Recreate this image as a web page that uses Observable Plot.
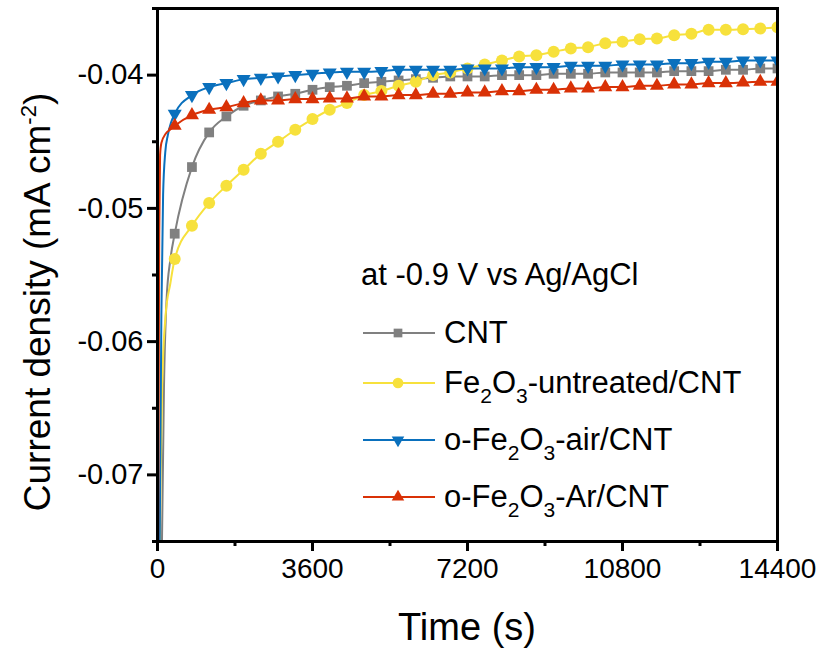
<!DOCTYPE html>
<html><head><meta charset="utf-8">
<script src="https://cdn.jsdelivr.net/npm/d3@7"></script>
<script src="https://cdn.jsdelivr.net/npm/@observablehq/plot@0.6"></script>
<style>body{margin:0;background:#fff;} svg{font-family:"Liberation Sans",Arial,sans-serif;}</style>
</head><body><div id="chart"></div>
<script>
// ---------- data ----------
const seriesNames = ["CNT", "Fe2O3-untreated/CNT", "o-Fe2O3-air/CNT", "o-Fe2O3-Ar/CNT"];
const colors = ["#808080", "#f7e13c", "#0a70bd", "#d93106"];
const time = [400,800,1200,1600,2000,2400,2800,3200,3600,4000,4400,4800,5200,5600,6000,6400,6800,7200,
              7600,8000,8400,8800,9200,9600,10000,10400,10800,11200,11600,12000,12400,12800,13200,13600,14000,14400];
const cnt = [-0.0519,-0.0469,-0.0443,-0.0431,-0.0423,-0.0419,-0.0416,-0.0414,-0.0411,-0.0409,-0.0408,-0.0406,-0.0405,-0.0404,-0.0403,-0.0402,-0.0401,-0.0401,
             -0.0401,-0.0400,-0.0400,-0.0400,-0.0399,-0.0399,-0.0399,-0.0398,-0.0398,-0.0398,-0.0398,-0.0397,-0.0397,-0.0397,-0.0396,-0.0396,-0.0395,-0.0395];
const fe2o3 = [-0.0538,-0.0513,-0.0496,-0.0483,-0.0471,-0.0459,-0.0450,-0.0441,-0.0433,-0.0426,-0.0421,-0.0415,-0.0412,-0.0408,-0.0405,-0.0400,-0.0398,-0.0395,
               -0.0392,-0.0389,-0.0386,-0.0385,-0.03825,-0.0380,-0.0379,-0.0376,-0.0375,-0.0373,-0.03725,-0.0370,-0.0369,-0.0366,-0.0366,-0.03655,-0.0365,-0.0364];
const air = [-0.0429,-0.0415,-0.0409,-0.0406,-0.0403,-0.0402,-0.0401,-0.0400,-0.0399,-0.0398,-0.03975,-0.03975,-0.0397,-0.0396,-0.0396,-0.0396,-0.0396,-0.0395,
             -0.0395,-0.0395,-0.0394,-0.0394,-0.0394,-0.0393,-0.0393,-0.0393,-0.0392,-0.0392,-0.0392,-0.0391,-0.0391,-0.0390,-0.0390,-0.0389,-0.0389,-0.0389];
const ar = [-0.0438,-0.0430,-0.0426,-0.0424,-0.0421,-0.0419,-0.0419,-0.0418,-0.0418,-0.04175,-0.04175,-0.0416,-0.0416,-0.0415,-0.0415,-0.0414,-0.0414,-0.0413,
            -0.0413,-0.0412,-0.0412,-0.0411,-0.0411,-0.0410,-0.0410,-0.0409,-0.0409,-0.0408,-0.0408,-0.0407,-0.0407,-0.0406,-0.0406,-0.04055,-0.0405,-0.0405];
// initial transient (line only, before first marker)
const cntEarlyT = [100,150,210,300],        cntEarlyV = [-0.076,-0.0635,-0.0569,-0.0538];
const fe2o3EarlyT = [50,70,110,186,300],    fe2o3EarlyV = [-0.076,-0.0706,-0.0631,-0.0581,-0.0556];
const airEarlyT = [40,90,130,180,240,310],  airEarlyV = [-0.080,-0.058,-0.049,-0.0458,-0.0445,-0.0436];
const arEarlyT = [10,40,60,90,190,290],     arEarlyV = [-0.080,-0.052,-0.0460,-0.0451,-0.0444,-0.0441];

const xTicks = [0,3600,7200,10800,14400];
const xMinor = [1800,5400,9000,12600];
const yTicks = [-0.07,-0.06,-0.05,-0.04];
const yMinor = [-0.075,-0.065,-0.055,-0.045,-0.035];

// ---------- build tables ----------
const mainVals = [cnt, fe2o3, air, ar];
const earlyT = [cntEarlyT, fe2o3EarlyT, airEarlyT, arEarlyT];
const earlyV = [cntEarlyV, fe2o3EarlyV, airEarlyV, arEarlyV];
const lineData = seriesNames.map((s, i) => [
  ...earlyT[i].map((t, j) => ({t, v: earlyV[i][j], s})),
  ...time.map((t, j) => ({t, v: mainVals[i][j], s}))
]);
const dotData = seriesNames.map((s, i) => time.map((t, j) => ({t, v: mainVals[i][j], s})));

const sqrt3 = Math.sqrt(3);
const triangleDown = {
  draw(context, size) {
    const y = -Math.sqrt(size / (sqrt3 * 3));
    context.moveTo(0, -y * 2);
    context.lineTo(-sqrt3 * y, y);
    context.lineTo(sqrt3 * y, y);
    context.closePath();
  }
};
const symbols = [d3.symbolSquare, d3.symbolCircle, triangleDown, d3.symbolTriangle];
const radii = [5.5, 6.0, 5.2, 5.2];

const marks = [];
seriesNames.forEach((s, i) => {
  marks.push(Plot.line(lineData[i], {x: "t", y: "v", stroke: colors[i], strokeWidth: 2, curve: "monotone-x", clip: true}));
  marks.push(Plot.dot(dotData[i], {x: "t", y: "v", fill: colors[i], stroke: "none", symbol: symbols[i], r: radii[i], clip: true}));
});

const chart = Plot.plot({
  width: 821, height: 651,
  marginLeft: 157, marginRight: 44, marginTop: 8, marginBottom: 110,
  style: {fontFamily: "'Liberation Sans', Arial, sans-serif", fontSize: "28px", color: "black", background: "white"},
  x: {domain: [0, 14400], label: null},
  y: {domain: [-0.075, -0.035], label: null},
  marks: [
    ...marks,
    Plot.axisX({ticks: xTicks, tickSize: 10, tickPadding: 7, strokeWidth: 3, tickFormat: d => String(d), fontSize: 28, label: null}),
    Plot.axisX({ticks: xMinor, tickSize: 5, strokeWidth: 3, tickFormat: () => "", label: null}),
    Plot.axisY({ticks: yTicks, tickSize: 10, tickPadding: 4, strokeWidth: 3, tickFormat: d => d.toFixed(2), fontSize: 29, label: null}),
    Plot.axisY({ticks: yMinor, tickSize: 5, strokeWidth: 3, tickFormat: () => "", label: null}),
    Plot.frame({stroke: "black", strokeWidth: 3})
  ]
});
document.getElementById("chart").appendChild(chart);

// ---------- axis titles & legend ----------
const svg = d3.select(chart);
svg.append("text").attr("x", 467).attr("y", 640).attr("text-anchor", "middle")
  .attr("font-size", 38).attr("fill", "black").text("Time (s)");

const yl = svg.append("text").attr("transform", "translate(50,302) rotate(-90)")
  .attr("text-anchor", "middle").attr("font-size", 37).attr("fill", "black");
yl.append("tspan").text("Current density (mA cm");
yl.append("tspan").attr("font-size", 22).attr("dy", -14).text("-2");
yl.append("tspan").attr("dy", 14).text(")");

svg.append("text").attr("x", 361).attr("y", 285).attr("text-anchor", "start").attr("font-size", 31).attr("fill", "black")
  .text("at -0.9 V vs Ag/AgCl");

const legendParts = [
  [["CNT"]],
  [["Fe"], ["2", 1], ["O"], ["3", 1], ["-untreated/CNT"]],
  [["o-Fe"], ["2", 1], ["O"], ["3", 1], ["-air/CNT"]],
  [["o-Fe"], ["2", 1], ["O"], ["3", 1], ["-Ar/CNT"]]
];
const legendY = [333, 383, 440, 497];
seriesNames.forEach((s, i) => {
  const g = svg.append("g");
  g.append("line").attr("x1", 363).attr("x2", 435).attr("y1", legendY[i]).attr("y2", legendY[i])
    .attr("stroke", colors[i]).attr("stroke-width", 2);
  g.append("path").attr("transform", `translate(398,${legendY[i]})`)
    .attr("d", d3.symbol(symbols[i], Math.PI * radii[i] * radii[i] * 0.8)())
    .attr("fill", colors[i]);
  const t = g.append("text").attr("x", 444).attr("y", legendY[i] + 10).attr("text-anchor", "start")
    .attr("font-size", 31).attr("fill", "black");
  let shifted = false;
  legendParts[i].forEach(([txt, sub]) => {
    const ts = t.append("tspan").text(txt);
    if (sub) { ts.attr("font-size", 21).attr("dy", shifted ? 0 : 10); shifted = true; }
    else if (shifted) { ts.attr("dy", -10); shifted = false; }
  });
});
</script></body></html>
